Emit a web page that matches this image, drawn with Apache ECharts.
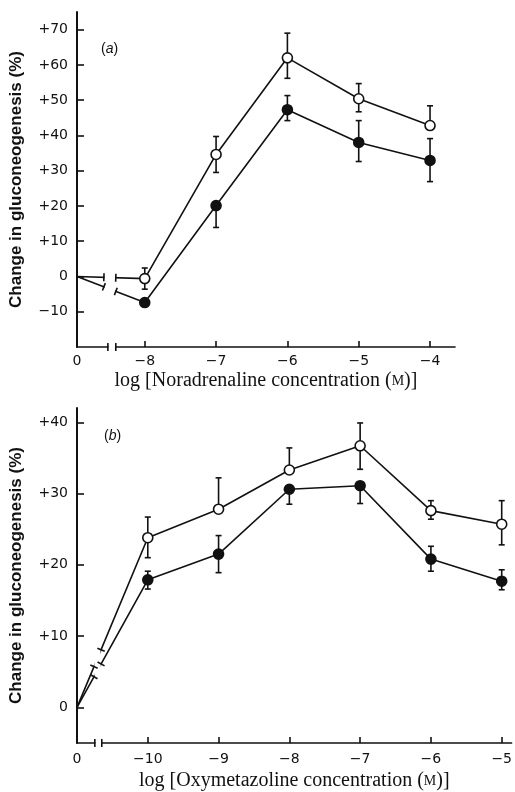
<!DOCTYPE html>
<html><head><meta charset="utf-8">
<script src="https://cdn.jsdelivr.net/npm/echarts@6/dist/echarts.min.js"></script>
<style>html,body{margin:0;padding:0;background:#fff}#c{width:515px;height:792px}</style>
</head><body><div id="c"></div>
<script>
// ---------- Panel (a): Noradrenaline ----------
const concA = [-8, -7, -6, -5, -4];
const openA = [-0.6, 34.6, 62.0, 50.4, 42.8];
const openUpA = [3.0, 5.1, 7.0, 4.3, 5.6];
const openDnA = [3.0, 5.1, 5.8, 3.7, 0];
const filledA = [-7.4, 20.1, 47.3, 38.0, 32.9];
const filledUpA = [0, 0, 4.0, 6.2, 6.2];
const filledDnA = [0, 6.2, 3.1, 5.4, 6.0];
const controlA = 0;
const yTicksA = [-10, 0, 10, 20, 30, 40, 50, 60, 70];
const xTicksA = [-8, -7, -6, -5, -4];

// ---------- Panel (b): Oxymetazoline ----------
const concB = [-10, -9, -8, -7, -6, -5];
const openB = [23.8, 27.8, 33.3, 36.7, 27.6, 25.7];
const openUpB = [2.9, 4.4, 3.1, 3.2, 1.4, 3.3];
const openDnB = [2.8, 0, 0, 3.3, 1.2, 2.9];
const filledB = [17.9, 21.5, 30.6, 31.1, 20.8, 17.7];
const filledUpB = [1.2, 2.6, 0, 0, 1.8, 1.6];
const filledDnB = [1.3, 2.6, 2.1, 2.5, 1.7, 1.2];
const controlB = 0;
const yTicksB = [0, 10, 20, 30, 40];
const xTicksB = [-10, -9, -8, -7, -6, -5];

// axis settings
const AX = {
  a: {xMin: -8.95, xMax: -3.65, yMin: -20, yMax: 75, brk: [-8.573, -8.406], axBrk: [-8.517, -8.406], labelGap: 7, nameGap: 24},
  b: {xMin: -11, xMax: -4.86, yMin: -5, yMax: 42, brk: [-10.76, -10.66], axBrk: [-10.748, -10.65], labelGap: 9, nameGap: 28}
};

const INK = '#111';
const SANS = 'DejaVu Sans';
const TITLE_SANS = 'Liberation Sans';
const SERIF = 'Liberation Serif';

function fmtY(v) { return v > 0 ? '+' + v : (v < 0 ? '\u2212' + Math.abs(v) : '0'); }

function lineData(ctrlX, ctrl, xs, ys) {
  return [{value: [ctrlX, ctrl], symbol: 'none'}].concat(xs.map((x, i) => [x, ys[i]]));
}
function errData(xs, ys, up, dn) {
  return xs.map((x, i) => [x, ys[i], ys[i] - dn[i], ys[i] + up[i]]);
}

function errRender(params, api) {
  const x = api.value(0), m = api.value(1), lo = api.value(2), hi = api.value(3);
  const pLo = api.coord([x, lo]), pHi = api.coord([x, hi]);
  const w = 3, ch = [];
  ch.push({type: 'line', shape: {x1: pLo[0], y1: pLo[1], x2: pHi[0], y2: pHi[1]}, style: {stroke: INK, lineWidth: 1.6}});
  if (hi > m) ch.push({type: 'line', shape: {x1: pHi[0] - w, y1: pHi[1], x2: pHi[0] + w, y2: pHi[1]}, style: {stroke: INK, lineWidth: 1.6}});
  if (lo < m) ch.push({type: 'line', shape: {x1: pLo[0] - w, y1: pLo[1], x2: pLo[0] + w, y2: pLo[1]}, style: {stroke: INK, lineWidth: 1.6}});
  return {type: 'group', children: ch};
}

function breakRender(cfg) {
  return function (params, api) {
    const cs = params.coordSys;
    const masks = [], caps = [];
    const xb0 = api.coord([cfg.brk[0], 0])[0], xb1 = api.coord([cfg.brk[1], 0])[0];
    cfg.segs.forEach(s => {
      const p0 = api.coord(s[0]), p1 = api.coord(s[1]);
      const dx = p1[0] - p0[0], dy = p1[1] - p0[1], L = Math.hypot(dx, dy);
      const nx = -dy / L * 4, ny = dx / L * 4;
      const at = xe => { const t = (xe - p0[0]) / dx; return [p0[0] + t * dx, p0[1] + t * dy]; };
      const q0 = at(xb0), q1 = at(xb1);
      const yT = Math.min(q0[1], q1[1]) - 8, yB = Math.max(q0[1], q1[1]) + 8;
      masks.push({type: 'rect', shape: {x: xb0 + 0.6, y: yT, width: xb1 - xb0 - 1.2, height: yB - yT}, style: {fill: '#fff'}});
      [q0, q1].forEach(q => caps.push({type: 'line', shape: {x1: q[0] - nx, y1: q[1] - ny, x2: q[0] + nx, y2: q[1] + ny}, style: {stroke: INK, lineWidth: 1.6}}));
    });
    const xa0 = api.coord([cfg.axBrk[0], 0])[0], xa1 = api.coord([cfg.axBrk[1], 0])[0];
    const yAx = cs.y + cs.height;
    masks.push({type: 'rect', shape: {x: xa0 + 0.6, y: yAx - 3, width: xa1 - xa0 - 1.2, height: 6}, style: {fill: '#fff'}});
    [xa0, xa1].forEach(xx => caps.push({type: 'line', shape: {x1: xx, y1: yAx - 4, x2: xx, y2: yAx + 4}, style: {stroke: INK, lineWidth: 1.6}}));
    return {type: 'group', children: masks.concat(caps)};
  };
}

function xAxisCfg(idx, ax, ticks, title) {
  return {
    type: 'value', gridIndex: idx, min: ax.xMin, max: ax.xMax,
    axisLine: {onZero: false, lineStyle: {color: INK, width: 1.6}},
    axisTick: {inside: true, length: 6, lineStyle: {color: INK, width: 1.6}, customValues: ticks},
    axisLabel: {customValues: [ax.xMin].concat(ticks), margin: ax.labelGap, color: INK, fontFamily: SANS, fontSize: 14,
      formatter: v => Math.abs(v - ax.xMin) < 1e-6 ? '0' : '\u2212' + Math.abs(v)},
    splitLine: {show: false},
    name: title, nameLocation: 'middle', nameGap: ax.nameGap,
    nameTextStyle: {color: INK, fontFamily: SERIF, fontSize: 20, rich: {sc: {fontFamily: SERIF, fontSize: 14, color: INK}}}
  };
}
function yAxisCfg(idx, ax, ticks) {
  return {
    type: 'value', gridIndex: idx, min: ax.yMin, max: ax.yMax,
    axisLine: {onZero: false, lineStyle: {color: INK, width: 2}},
    axisTick: {inside: true, length: 7, lineStyle: {color: INK, width: 1.6}, customValues: ticks},
    axisLabel: {customValues: ticks, margin: 9, color: INK, fontFamily: SANS, fontSize: 14, formatter: fmtY},
    splitLine: {show: false},
    name: 'Change in gluconeogenesis (%)', nameLocation: 'middle', nameGap: 52, nameRotate: 90,
    nameTextStyle: {color: INK, fontFamily: TITLE_SANS, fontSize: 17, fontWeight: 'bold'}
  };
}
function lineSeries(idx, data, fill) {
  return {
    type: 'line', xAxisIndex: idx, yAxisIndex: idx, data: data, z: 3,
    symbol: 'circle', symbolSize: 10, showAllSymbol: true,
    lineStyle: {color: INK, width: 1.6},
    itemStyle: {color: fill, borderColor: INK, borderWidth: 1.6},
    emphasis: {disabled: true}, animation: false
  };
}
function errSeries(idx, data) {
  return {type: 'custom', xAxisIndex: idx, yAxisIndex: idx, data: data, renderItem: errRender, z: 2, clip: false,
    encode: {x: 0, y: [1, 2, 3]}, animation: false};
}
function breakSeries(idx, cfg) {
  return {type: 'custom', xAxisIndex: idx, yAxisIndex: idx, data: [[cfg.brk[0], 0]], renderItem: breakRender(cfg), z: 10, clip: false, animation: false, silent: true};
}

const labelStyle = {color: INK, fontFamily: TITLE_SANS, fontSize: 14, fontWeight: 'normal', rich: {i: {fontStyle: 'italic', fontFamily: TITLE_SANS, fontSize: 14, color: INK}}};
const option = {
  animation: false,
  backgroundColor: '#fff',
  title: [
    {text: '({i|a})', left: 96, top: 37, textStyle: labelStyle},
    {text: '({i|b})', left: 99, top: 424, textStyle: labelStyle}
  ],
  grid: [
    {left: 75, top: 12, width: 380, height: 335},
    {left: 76, top: 408, width: 438, height: 335}
  ],
  xAxis: [
    xAxisCfg(0, AX.a, xTicksA, 'log [Noradrenaline concentration ({sc|M})]'),
    xAxisCfg(1, AX.b, xTicksB, 'log [Oxymetazoline concentration ({sc|M})]')
  ],
  yAxis: [yAxisCfg(0, AX.a, yTicksA), yAxisCfg(1, AX.b, yTicksB)],
  series: [
    errSeries(0, errData(concA, openA, openUpA, openDnA)),
    errSeries(0, errData(concA, filledA, filledUpA, filledDnA)),
    lineSeries(0, lineData(AX.a.xMin, controlA, concA, openA), '#fff'),
    lineSeries(0, lineData(AX.a.xMin, controlA, concA, filledA), INK),
    breakSeries(0, {brk: AX.a.brk, axBrk: AX.a.axBrk, segs: [
      [[AX.a.xMin, controlA], [concA[0], openA[0]]],
      [[AX.a.xMin, controlA], [concA[0], filledA[0]]]]}),
    errSeries(1, errData(concB, openB, openUpB, openDnB)),
    errSeries(1, errData(concB, filledB, filledUpB, filledDnB)),
    lineSeries(1, lineData(AX.b.xMin, controlB, concB, openB), '#fff'),
    lineSeries(1, lineData(AX.b.xMin, controlB, concB, filledB), INK),
    breakSeries(1, {brk: AX.b.brk, axBrk: AX.b.axBrk, segs: [
      [[AX.b.xMin, controlB], [concB[0], openB[0]]],
      [[AX.b.xMin, controlB], [concB[0], filledB[0]]]]})
  ]
};
const chart = echarts.init(document.getElementById('c'), null, {renderer: 'canvas'});
chart.setOption(option);
</script>
</body></html>
